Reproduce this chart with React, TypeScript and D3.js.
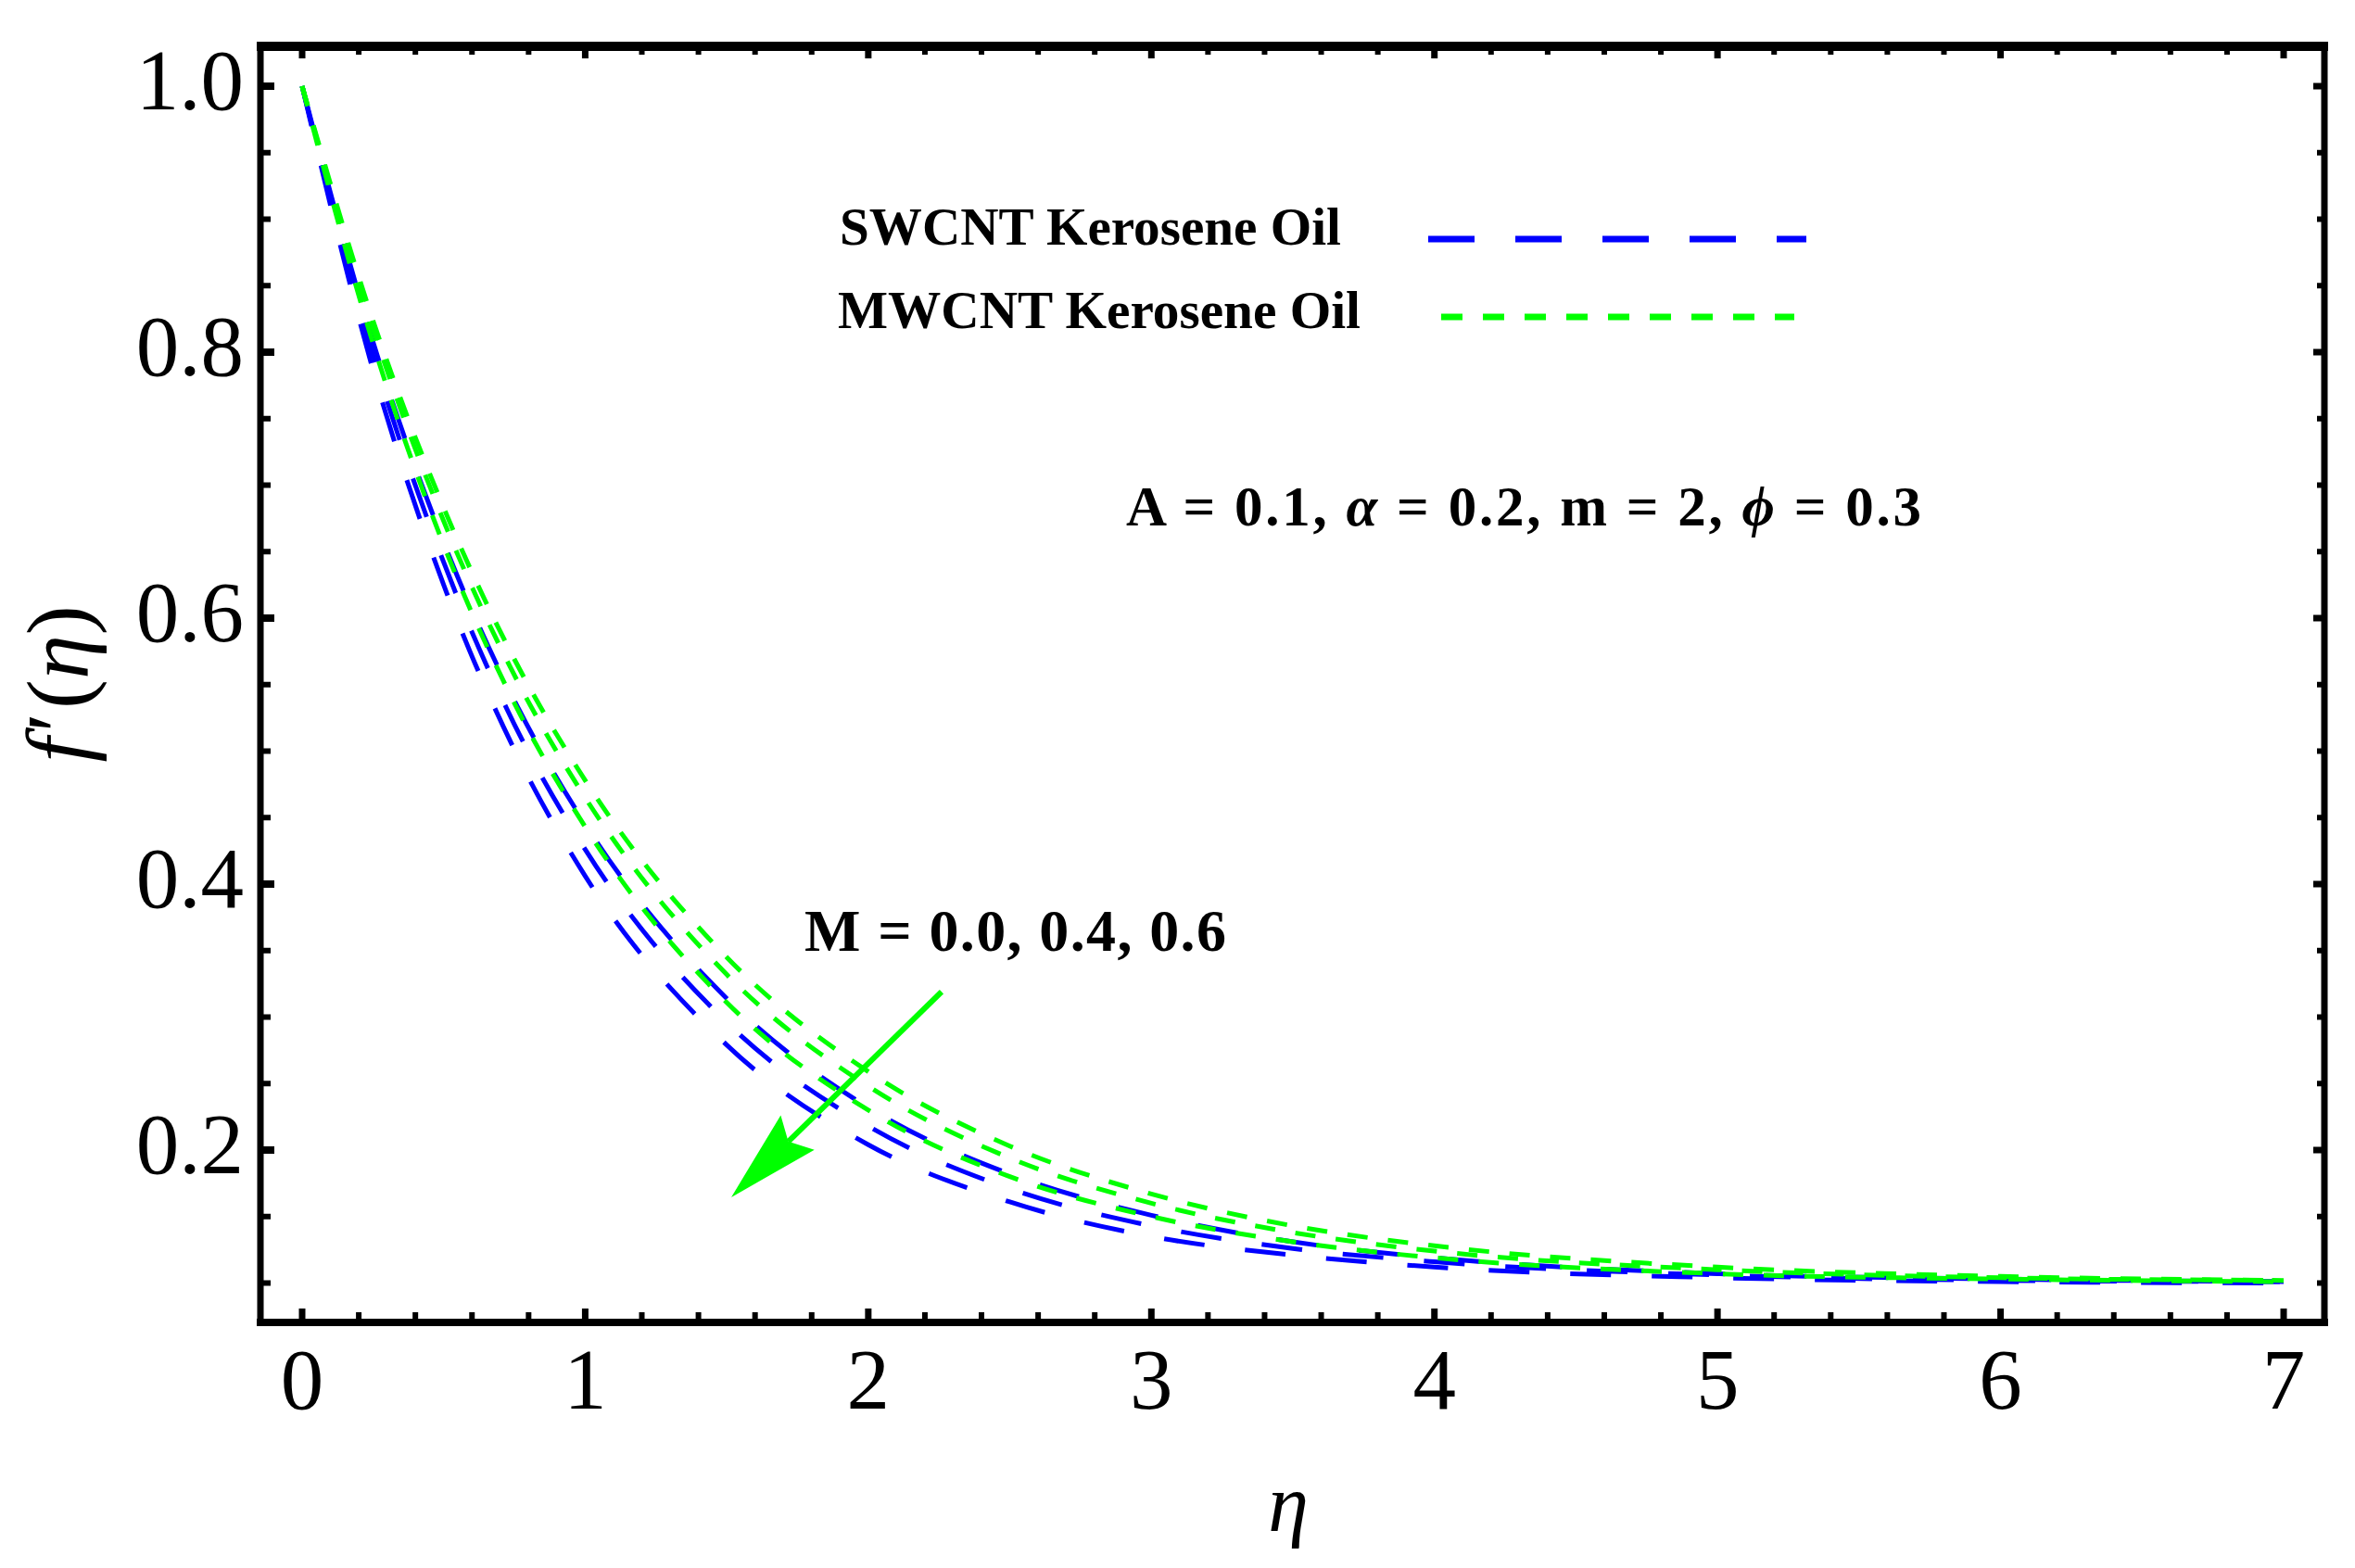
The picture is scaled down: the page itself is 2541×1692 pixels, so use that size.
import * as d3 from "d3";

// eta grid and f'(eta)
const etas = [0, 0.25, 0.5, 0.75, 1, 1.5, 2, 2.5, 3, 3.5, 4, 5, 6, 7];
const swcntM00 = [1, 0.808, 0.657, 0.538, 0.445, 0.314, 0.232, 0.182, 0.151, 0.131, 0.119, 0.107, 0.103, 0.101];
const swcntM04 = [1, 0.798, 0.642, 0.52, 0.426, 0.296, 0.218, 0.171, 0.143, 0.126, 0.116, 0.106, 0.102, 0.101];
const swcntM06 = [1, 0.787, 0.625, 0.501, 0.406, 0.279, 0.204, 0.161, 0.135, 0.121, 0.112, 0.104, 0.101, 0.1];
const mwcntM00 = [1, 0.824, 0.683, 0.569, 0.478, 0.345, 0.259, 0.203, 0.167, 0.143, 0.128, 0.112, 0.105, 0.102];
const mwcntM04 = [1, 0.818, 0.673, 0.557, 0.465, 0.332, 0.248, 0.194, 0.16, 0.138, 0.124, 0.11, 0.104, 0.102];
const mwcntM06 = [1, 0.807, 0.655, 0.536, 0.443, 0.311, 0.23, 0.18, 0.15, 0.131, 0.119, 0.107, 0.103, 0.101];

const xTickLabels = ["0", "1", "2", "3", "4", "5", "6", "7"];
const yTickLabels = ["0.2", "0.4", "0.6", "0.8", "1.0"];

const legendLabels = ["SWCNT Kerosene Oil", "MWCNT Kerosene Oil"];
const BLUE = "#0000ff";
const GREEN = "#00ff00";
const FONT = "'Liberation Serif', 'Times New Roman', serif";

const W = 2541;
const H = 1692;
// frame
const L = 281, R = 2508, T = 50, B = 1427;

const x = d3.scaleLinear().domain([0, 7]).range([326, 2464]);
const y = d3.scaleLinear().domain([0.1, 1.0]).range([1384.5, 93]);

const line = d3
  .line<number>()
  .x((_, i) => x(etas[i]))
  .y((d) => y(d))
  .curve(d3.curveMonotoneX);

const xMinor = d3.range(0, 7.001, 0.2);
const yMinor = d3.range(0.1, 1.0001, 0.05);

// arrow annotation, in data units
const arrowFrom = [2.259, 0.319];
const arrowTo = [1.516, 0.1645];

export default function App() {
  const sx = x(arrowFrom[0]), sy = y(arrowFrom[1]);
  const tx = x(arrowTo[0]), ty = y(arrowTo[1]);
  const len = Math.hypot(tx - sx, ty - sy);
  const ux = (tx - sx) / len, uy = (ty - sy) / len;
  const px = -uy, py = ux;
  const hl = 100, hw = 26, notch = 14;
  const bx = tx - ux * hl, by = ty - uy * hl;
  const head = [
    [tx, ty],
    [bx + px * hw, by + py * hw],
    [tx - ux * (hl - notch), ty - uy * (hl - notch)],
    [bx - px * hw, by - py * hw],
  ]
    .map((p) => p.join(","))
    .join(" ");

  const blues = [swcntM00, swcntM04, swcntM06];
  const greens = [mwcntM00, mwcntM04, mwcntM06];

  return (
    <div style={{ position: "absolute", left: 0, top: 0 }}>
      <svg width={W} height={H} style={{ display: "block", background: "#fff" }} fontFamily={FONT}>
        <rect width={W} height={H} fill="#fff" />

        {/* curves */}
        {blues.map((s, i) => (
          <path key={"b" + i} d={line(s) || ""} fill="none" stroke={BLUE} strokeWidth={5} strokeDasharray="44,44" />
        ))}
        {greens.map((s, i) => (
          <path key={"g" + i} d={line(s) || ""} fill="none" stroke={GREEN} strokeWidth={5} strokeDasharray="22,22" />
        ))}

        {/* ticks */}
        {xMinor.map((v, i) => {
          const major = Math.abs(v - Math.round(v)) < 1e-6;
          return (
            <g key={"xt" + i} stroke="#000">
              <line x1={x(v)} x2={x(v)} y1={B} y2={B - (major ? 15 : 11)} strokeWidth={major ? 7 : 6} />
              <line x1={x(v)} x2={x(v)} y1={T} y2={T + (major ? 13 : 9)} strokeWidth={major ? 7 : 6} />
            </g>
          );
        })}
        {yMinor.map((v, i) => {
          const major = Math.abs(v * 5 - Math.round(v * 5)) < 1e-6;
          return (
            <g key={"yt" + i} stroke="#000">
              <line x1={L} x2={L + (major ? 15 : 11)} y1={y(v)} y2={y(v)} strokeWidth={major ? 8 : 6} />
              <line x1={R} x2={R - (major ? 12 : 8)} y1={y(v)} y2={y(v)} strokeWidth={major ? 7 : 6} />
            </g>
          );
        })}

        {/* frame */}
        <line x1={L - 4} x2={R + 4} y1={T} y2={T} stroke="#000" strokeWidth={10} />
        <line x1={L - 4} x2={R + 4} y1={B} y2={B} stroke="#000" strokeWidth={8} />
        <line x1={L} x2={L} y1={T} y2={B + 4} stroke="#000" strokeWidth={7} />
        <line x1={R} x2={R} y1={T} y2={B + 4} stroke="#000" strokeWidth={7} />

        {/* tick labels */}
        {xTickLabels.map((t, i) => (
          <text key={"xl" + i} x={x(+t)} y={1520} fontSize={93} textAnchor="middle">
            {t}
          </text>
        ))}
        {yTickLabels.map((t, i) => (
          <text key={"yl" + i} x={263} y={y(+t) + 25} fontSize={93} textAnchor="end">
            {t}
          </text>
        ))}

        {/* axis titles */}
        <text x={1390} y={1652} fontSize={88} fontStyle="italic" textAnchor="middle">
          η
        </text>
        <text transform="translate(95,738) rotate(-90)" fontSize={96} textAnchor="middle">
          <tspan fontStyle="italic">f</tspan>
          <tspan dx={6}>′</tspan>
          <tspan dx={4}>(</tspan>
          <tspan fontStyle="italic">η</tspan>
          <tspan>)</tspan>
        </text>

        {/* legend */}
        <text x={906} y={264} fontSize={58} fontWeight="bold" textLength={541} lengthAdjust="spacingAndGlyphs">
          {legendLabels[0]}
        </text>
        <text x={904} y={354} fontSize={58} fontWeight="bold" textLength={564} lengthAdjust="spacingAndGlyphs">
          {legendLabels[1]}
        </text>
        <line x1={1541} x2={1949} y1={258} y2={258} stroke={BLUE} strokeWidth={7} strokeDasharray="50,44" />
        <line x1={1555} x2={1936} y1={342} y2={342} stroke={GREEN} strokeWidth={7} strokeDasharray="23,22" />

        {/* parameters */}
        <text x={1215} y={567} fontSize={61} fontWeight="bold" textLength={858} lengthAdjust="spacing">
          A = 0.1, <tspan fontStyle="italic">α</tspan> = 0.2, m = 2, <tspan fontStyle="italic">ϕ</tspan> = 0.3
        </text>

        {/* M annotation with arrow */}
        <text x={868} y={1026} fontSize={64} fontWeight="bold" textLength={455} lengthAdjust="spacing">
          M = 0.0, 0.4, 0.6
        </text>
        <line x1={sx} y1={sy} x2={tx - ux * (hl - notch)} y2={ty - uy * (hl - notch)} stroke={GREEN} strokeWidth={6} />
        <polygon points={head} fill={GREEN} />
      </svg>
    </div>
  );
}
